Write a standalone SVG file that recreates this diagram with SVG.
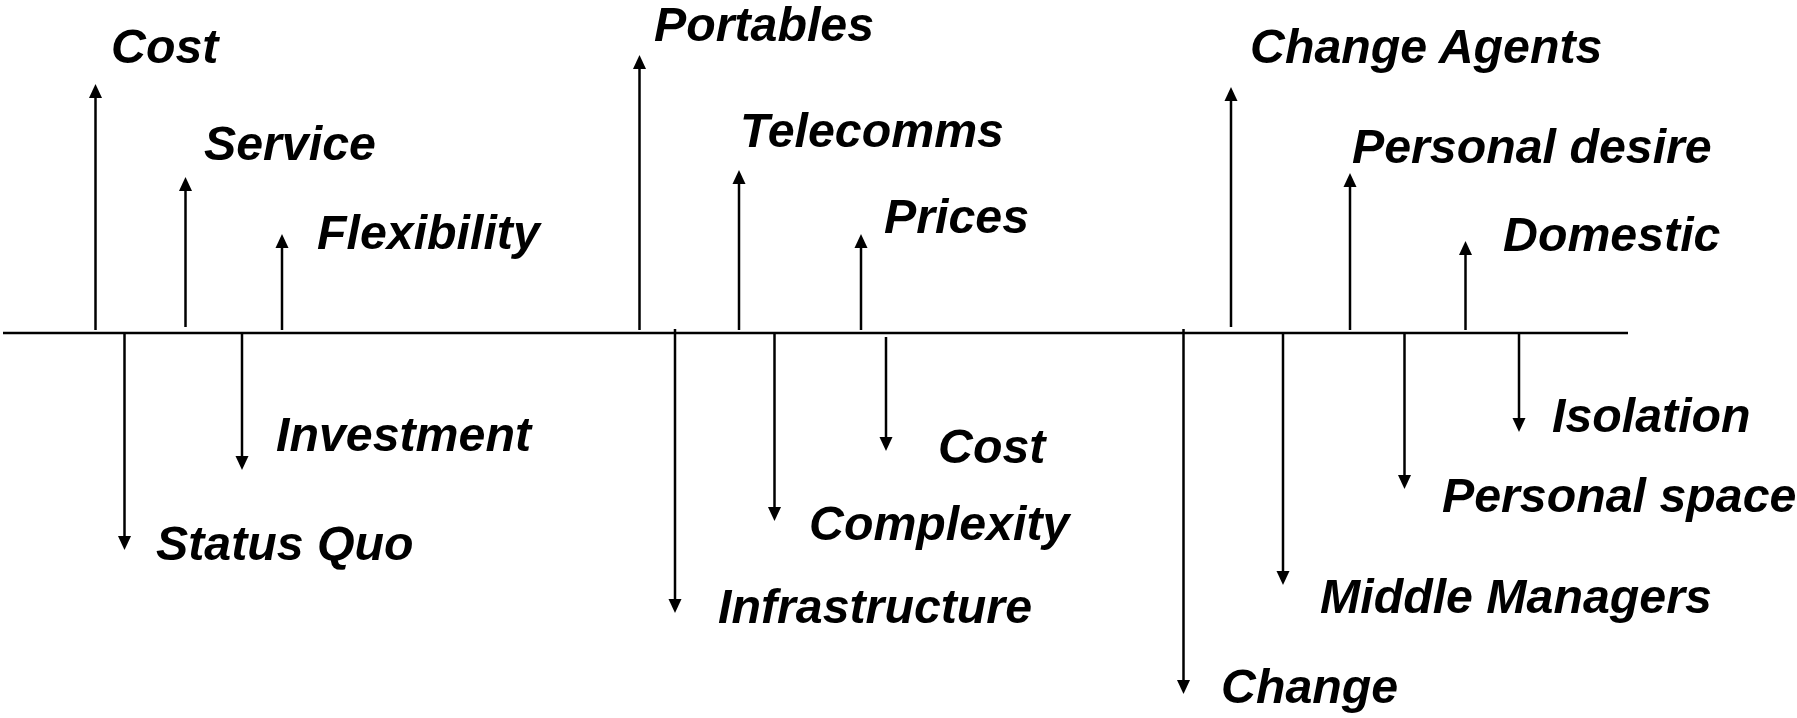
<svg xmlns="http://www.w3.org/2000/svg" width="1797" height="718" viewBox="0 0 1797 718">
<defs>
<style>
.lbl{font-family:"Liberation Sans",Arial,sans-serif;font-weight:bold;font-style:italic;font-size:48.3px;fill:#000}
.arr{stroke:#000;stroke-width:2.5;fill:none;marker-end:url(#ah)}
.axis{stroke:#000;stroke-width:2.7;fill:none}
</style>
<marker id="ah" markerUnits="userSpaceOnUse" markerWidth="14" markerHeight="14" refX="0" refY="6.5" orient="auto" viewBox="0 0 14 13">
<path d="M0,0 L14,6.5 L0,13 z" fill="#000"/>
</marker>
</defs>
<rect width="1797" height="718" fill="#fff"/>
<g id="connectors">
<line class="axis" x1="3" y1="333" x2="1628" y2="333"/>
<line class="arr" x1="95.5" y1="330" x2="95.5" y2="98"/>
<line class="arr" x1="185.5" y1="327" x2="185.5" y2="191"/>
<line class="arr" x1="282" y1="330" x2="282" y2="248"/>
<line class="arr" x1="639.5" y1="330" x2="639.5" y2="69"/>
<line class="arr" x1="739" y1="330" x2="739" y2="184"/>
<line class="arr" x1="861" y1="330" x2="861" y2="248"/>
<line class="arr" x1="1231" y1="327" x2="1231" y2="101"/>
<line class="arr" x1="1350" y1="330" x2="1350" y2="187"/>
<line class="arr" x1="1465.5" y1="330" x2="1465.5" y2="255"/>
<line class="arr" x1="124.5" y1="334" x2="124.5" y2="536"/>
<line class="arr" x1="242" y1="334" x2="242" y2="456"/>
<line class="arr" x1="675" y1="329" x2="675" y2="599"/>
<line class="arr" x1="774.5" y1="334" x2="774.5" y2="507"/>
<line class="arr" x1="886" y1="337" x2="886" y2="437"/>
<line class="arr" x1="1183.5" y1="329" x2="1183.5" y2="680"/>
<line class="arr" x1="1283" y1="334" x2="1283" y2="571"/>
<line class="arr" x1="1404.5" y1="334" x2="1404.5" y2="475"/>
<line class="arr" x1="1519" y1="334" x2="1519" y2="418"/>
</g>
<g id="cost1"><text class="lbl" x="111" y="63">Cost</text></g>
<g id="service"><text class="lbl" x="204" y="160">Service</text></g>
<g id="flexibility"><text class="lbl" x="317" y="249">Flexibility</text></g>
<g id="investment"><text class="lbl" x="276" y="451">Investment</text></g>
<g id="statusquo"><text class="lbl" x="156" y="560">Status Quo</text></g>
<g id="portables"><text class="lbl" x="654" y="41">Portables</text></g>
<g id="telecomms"><text class="lbl" x="740" y="147">Telecomms</text></g>
<g id="prices"><text class="lbl" x="884" y="233">Prices</text></g>
<g id="infrastructure"><text class="lbl" x="718" y="623">Infrastructure</text></g>
<g id="complexity"><text class="lbl" x="809" y="540">Complexity</text></g>
<g id="cost2"><text class="lbl" x="938" y="463">Cost</text></g>
<g id="changeagents"><text class="lbl" x="1250" y="63">Change Agents</text></g>
<g id="personaldesire"><text class="lbl" x="1352" y="163">Personal desire</text></g>
<g id="domestic"><text class="lbl" x="1503" y="251">Domestic</text></g>
<g id="change"><text class="lbl" x="1221" y="703">Change</text></g>
<g id="middlemanagers"><text class="lbl" x="1320" y="613">Middle Managers</text></g>
<g id="personalspace"><text class="lbl" x="1442" y="512">Personal space</text></g>
<g id="isolation"><text class="lbl" x="1552" y="432">Isolation</text></g>
</svg>
